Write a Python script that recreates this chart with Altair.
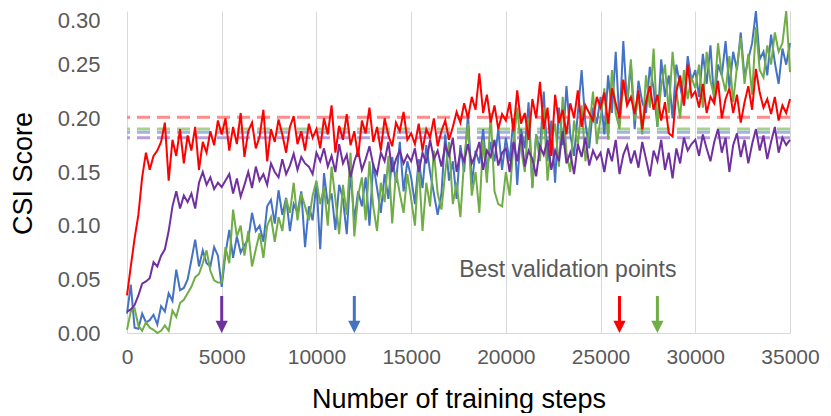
import altair as alt
import pandas as pd

# ---------------- data (values in thousandths of CSI) ----------------
steps = list(range(0, 35001, 200))

red_vals = [
    35, 62, 88, 110, 145, 168, 152, 165, 170, 178, 196, 142, 180, 165, 190, 158, 184, 170, 192, 152, 178, 168, 188, 175, 198,
    185, 200, 170, 192, 176, 205, 164, 188, 196, 172, 183, 208, 160, 190, 178, 199, 185, 168, 192, 202, 176, 188, 170, 195, 182,
    190, 172, 200, 185, 212, 168, 193, 180, 204, 175, 188, 164, 198, 186, 210, 178, 192, 170, 200, 184, 174, 196, 188, 206, 180,
    186, 176, 195, 170, 190, 182, 200, 174, 188, 198, 180, 192, 206, 196, 214, 200, 220, 208, 242, 205, 222, 196, 212, 190, 204,
    198, 215, 188, 226, 195, 205, 180, 218, 200, 234, 190, 210, 165, 222, 196, 208, 185, 214, 200, 226, 192, 212, 205, 198, 220,
    210, 224, 195, 228, 214, 200, 236, 212, 220, 204, 226, 190, 216, 230, 208, 222, 198, 215, 186, 183, 225, 240, 212, 250, 220,
    225, 210, 232, 205, 220, 214, 235, 200, 218, 228, 205, 222, 196, 215, 230, 208, 246, 224, 210, 218, 204, 220, 198, 212, 205,
    218,
]

purple_vals = [
    20, 22, 26, 35, 46, 48, 51, 66, 62, 72, 78, 95, 118, 132, 116, 128, 122, 130, 116, 140, 150, 138, 145, 134, 140,
    136, 142, 148, 130, 144, 127, 138, 150, 135, 155, 142, 148, 138, 158, 150, 145, 162, 148, 156, 167, 152, 164, 158, 155, 148,
    168, 160, 172, 155, 165, 150, 176, 158, 166, 145, 160, 170, 152, 162, 174, 156, 148, 168, 160, 178, 150, 162, 170, 158, 166,
    160, 172, 150, 168, 158, 180, 162, 170, 155, 175, 165, 182, 150, 168, 160, 176, 158, 166, 178, 152, 170, 164, 180, 156, 168,
    172, 150, 178, 160, 185, 155, 170, 162, 146, 174, 166, 180, 152, 170, 160, 188, 158, 168, 148, 176, 164, 182, 156, 170, 162,
    168, 150, 172, 160, 180, 148, 166, 175, 158, 170, 154, 178, 162, 146, 170, 160, 180, 152, 168, 144, 172, 158, 182, 170, 176,
    180, 165, 185, 172, 160, 178, 190, 168, 182, 150, 175, 186, 164, 180, 158, 176, 190, 170, 184, 162, 178, 192, 168, 182, 175,
    180,
]

blue_vals = [
    18, 45, 5, 4, 18, 10, 12, 17, 8, 25, 20, 37, 30, 59, 40, 42, 50, 68, 87, 62, 77, 65, 62, 80, 72,
    43, 74, 96, 70, 90, 75, 82, 87, 112, 95, 100, 85, 118, 124, 102, 133, 110, 126, 95, 120, 112, 132, 80, 118, 105,
    140, 78, 149, 120, 130, 96, 138, 125, 92, 150, 105, 132, 118, 145, 100, 158, 135, 112, 148, 125, 164, 140, 178, 132, 160,
    145, 120, 162, 135, 175, 150, 130, 110, 130, 185, 142, 160, 125, 175, 150, 205, 138, 170, 158, 190, 148, 178, 160, 190, 152,
    182, 160, 200, 138, 190, 172, 215, 136, 185, 170, 225, 160, 198, 140, 210, 175, 230, 185, 165, 205, 245, 195, 172, 210, 195,
    220, 185, 240, 205, 262, 195, 272, 212, 250, 190, 235, 215, 205, 248, 228, 192, 255, 220, 240, 200, 250, 230, 212, 258, 235,
    245, 220, 260, 232, 268, 215, 250, 240, 272, 228, 262, 245, 280, 238, 255, 270, 300, 255, 262, 240, 278, 252, 232, 265, 250,
    270,
]

green_vals = [
    3, 20, 23, 7, 2, 10, 5, 3, 0, 2, 7, 2, 21, 15, 28, 31, 37, 43, 52, 55, 65, 77, 58, 49, 47,
    47, 80, 65, 115, 90, 100, 72, 95, 62, 78, 93, 70, 100, 108, 85, 108, 95, 125, 112, 140, 105, 130, 118, 105, 128,
    142, 120, 136, 100, 155, 125, 92, 138, 110, 168, 90, 128, 145, 105, 160, 118, 95, 140, 122, 165, 102, 150, 130, 112, 148,
    125, 100, 158, 95, 140, 118, 170, 130, 115, 150, 178, 120, 140, 108, 162, 195, 128, 150, 112, 180, 140, 205, 132, 120, 118,
    150, 128, 175, 210, 172, 150, 200, 135, 185, 160, 210, 142, 178, 195, 155, 220, 168, 150, 198, 175, 212, 160, 188, 225, 176,
    200, 228, 180, 245, 205, 190, 235, 215, 255, 198, 222, 185, 240, 210, 265, 192, 230, 250, 205, 262, 225, 200, 245, 218, 238,
    228, 250, 210, 262, 235, 220, 270, 240, 225, 258, 215, 248, 275, 232, 260, 222, 285, 245, 238, 268, 250, 280, 262, 270, 300,
    243,
]

series_names = ["Blue", "Green", "Purple", "Red"]           # drawing order
series_values = [blue_vals, green_vals, purple_vals, red_vals]
line_colors = ["#4472C4", "#70AD47", "#7030A0", "#FF0000"]

# best-validation CSI levels (dashed lines)
best_names = ["Red", "Green", "Blue", "Purple"]
best_levels = [0.201, 0.190, 0.187, 0.182]
best_colors = ["#FF8B8B", "#A9D18E", "#9DB5E2", "#B79EDB"]

# best-validation step markers (arrows)
arrow_steps = [5000, 12000, 26000, 28000]
arrow_colors = ["#7030A0", "#4472C4", "#FF0000", "#70AD47"]
arrow_top = 0.0345
arrow_shaft_end = 0.011
arrow_head = 0.0056

label_text = ["Best validation points"]
label_step = [23270]
label_csi = [0.0587]

x_ticks = [0, 5000, 10000, 15000, 20000, 25000, 30000, 35000]
y_ticks = [0.0, 0.05, 0.10, 0.15, 0.20, 0.25, 0.30]

FONT = "Liberation Sans"

# ---------------- encodings ----------------
X = alt.X(
    "step:Q",
    scale=alt.Scale(domain=[0, 35000], nice=False, zero=False),
    axis=alt.Axis(
        values=x_ticks, format="d", grid=True, gridColor="#D9D9D9", gridWidth=1,
        domainColor="#D9D9D9", domainWidth=1, ticks=False, tickSize=0,
        labelFontSize=21, labelColor="#595959", labelPadding=13, labelFont=FONT,
        labelOverlap=False, labelFlush=False,
        title="Number of training steps", titleFontSize=27, titleFontWeight="normal",
        titleColor="#000000", titleFont=FONT, titleX=331.5, titleY=74,
        titleAlign="center", titleBaseline="alphabetic",
    ),
)

Y = alt.Y(
    "csi:Q",
    scale=alt.Scale(domain=[0, 0.3], nice=False, zero=True),
    axis=alt.Axis(
        values=y_ticks, format=".2f", grid=False, domain=False, ticks=False, tickSize=0,
        labelFontSize=22, labelColor="#595959", labelPadding=27, labelFont=FONT,
        labelOffset={"condition": {"test": "datum.value > 0.29", "value": 9}, "value": 0},
        labelOverlap=False,
        title="CSI Score", titleFontSize=27, titleFontWeight="normal", titleColor="#000000",
        titleFont=FONT, titleAngle=270, titleX=-96, titleY=162,
        titleAlign="center", titleBaseline="alphabetic",
    ),
)

layers = []

# dashed best-level lines
for name, lvl, col in zip(best_names, best_levels, best_colors):
    df = pd.DataFrame({"csi": [lvl], "series": [name]})
    layers.append(
        alt.Chart(df).mark_rule(color=col, strokeWidth=3, strokeDash=[13, 7]).encode(y=Y)
    )

# training curves
for name, vals, col in zip(series_names, series_values, line_colors):
    df = pd.DataFrame({"step": steps, "csi": [v / 1000 for v in vals], "series": name})
    layers.append(
        alt.Chart(df).mark_line(color=col, strokeWidth=2).encode(x=X, y=Y)
    )

# arrows: shaft
shaft_df = pd.DataFrame({
    "step": arrow_steps,
    "csi": [arrow_top] * len(arrow_steps),
    "csi_end": [arrow_shaft_end] * len(arrow_steps),
    "col": arrow_colors,
})
layers.append(
    alt.Chart(shaft_df).mark_rule(strokeWidth=3).encode(
        x=X, y=Y, y2="csi_end:Q", color=alt.Color("col:N", scale=None)
    )
)
# arrows: head
head_df = pd.DataFrame({
    "step": arrow_steps,
    "csi": [arrow_head] * len(arrow_steps),
    "col": arrow_colors,
})
layers.append(
    alt.Chart(head_df).mark_point(
        shape="M-1,-1L1,-1L0,1Z", size=150, filled=True, opacity=1
    ).encode(x=X, y=Y, color=alt.Color("col:N", scale=None))
)

# annotation text
text_df = pd.DataFrame({"step": label_step, "csi": label_csi, "label": label_text})
layers.append(
    alt.Chart(text_df).mark_text(
        fontSize=23, color="#595959", font=FONT, align="center", baseline="middle"
    ).encode(x=X, y=Y, text="label:N")
)

chart = alt.layer(*layers).properties(
    width=663,
    height=322,
    padding={"left": 119, "top": 3, "right": 30, "bottom": 80},
    autosize="none",
).configure(font=FONT).configure_view(strokeWidth=0)

chart.save("out.html", embed_options={"renderer": "svg", "actions": False})
